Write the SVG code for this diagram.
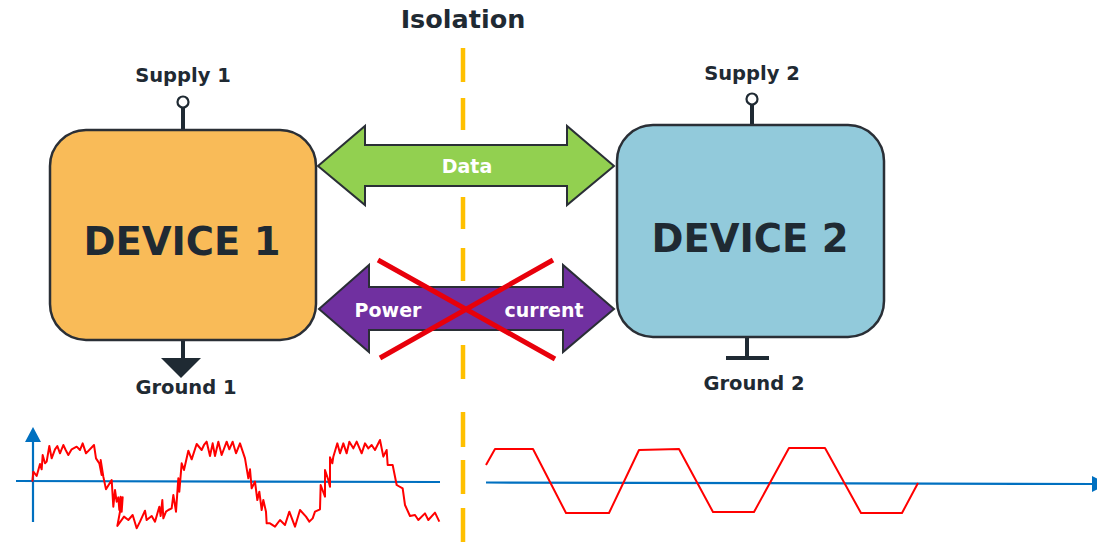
<svg xmlns="http://www.w3.org/2000/svg" width="1097" height="542" viewBox="0 0 1097 542">
<style>
.lbl{font-family:"DejaVu Sans","Liberation Sans",sans-serif;font-weight:bold;fill:#1F2A33;text-anchor:middle}
.dev{stroke:#2A2F36;stroke-width:2.5}
.wire{stroke:#1F2A33;stroke-width:4;fill:none}
.arr{stroke:#2A2F36;stroke-width:2;stroke-linejoin:miter}
.wt{font-family:"DejaVu Sans","Liberation Sans",sans-serif;font-weight:bold;fill:#FFFFFF;font-size:19px}
.axis{stroke:#0070C0;stroke-width:2.2;fill:none}
.wave{stroke:#FF0000;stroke-width:2;fill:none;stroke-linejoin:round}
</style>
<rect width="1097" height="542" fill="#FFFFFF"/>

<g id="isolation">
<path d="M463 48V82M463 98V130M463 148V180M463 197V229M463 248V281M463 298V330M463 345V379M463 412V447M463 460V494M463 508V542" stroke="#FFC000" stroke-width="4.5"/>
<text class="lbl" x="463" y="28" font-size="25.5">Isolation</text>
</g>

<g id="device1">
<line class="wire" x1="183" y1="107" x2="183" y2="131"/>
<circle cx="183" cy="102" r="5.5" fill="#FFFFFF" stroke="#1F2A33" stroke-width="2.2"/>
<line class="wire" x1="183" y1="340" x2="183" y2="360"/>
<polygon points="161,358 201,358 181,378" fill="#1F2A33"/>
<rect class="dev" x="50" y="130" width="266" height="210" rx="36" fill="#F9BB58"/>
<text class="lbl" x="183" y="82" font-size="19.5">Supply 1</text>
<text class="lbl" x="182" y="255" font-size="38.5">DEVICE 1</text>
<text class="lbl" x="186" y="394" font-size="19.5">Ground 1</text>
</g>

<g id="device2">
<line class="wire" x1="752" y1="104" x2="752" y2="126"/>
<circle cx="752" cy="99" r="5.5" fill="#FFFFFF" stroke="#1F2A33" stroke-width="2.2"/>
<line class="wire" x1="747" y1="337" x2="747" y2="358"/>
<line class="wire" x1="726" y1="358" x2="769" y2="358"/>
<rect class="dev" x="617" y="125" width="267" height="212" rx="36" fill="#92CADB"/>
<text class="lbl" x="752" y="80" font-size="19.5">Supply 2</text>
<text class="lbl" x="750" y="252" font-size="38.5">DEVICE 2</text>
<text class="lbl" x="754" y="390" font-size="19.5">Ground 2</text>
</g>

<g id="connectors">
<g id="data">
<polygon class="arr" fill="#92D050" points="318,166 365,126 365,145 567,145 567,126 614,166 567,205 567,186 365,186 365,205"/>
<text class="wt" x="467" y="173" text-anchor="middle">Data</text>
</g>
<g id="power">
<polygon class="arr" fill="#7030A0" points="319,309 369,265 369,287 563,287 563,265 614,309 563,352 563,330 369,330 369,352"/>
<text class="wt" x="388" y="317" text-anchor="middle" font-size="20">Power</text>
<text class="wt" x="544" y="317" text-anchor="middle" font-size="20">current</text>
<path d="M378 260L555 359M553 260L380 358" stroke="#E8000B" stroke-width="5"/>
</g>
</g>

<g id="waveform1">
<line class="axis" x1="33" y1="522" x2="33" y2="440"/>
<polygon points="25,442 41,442 33,427" fill="#0070C0"/>
<line class="axis" x1="16" y1="481" x2="440" y2="482"/>
<g transform="translate(0 410) scale(0.33333)">
<polyline fill="none" stroke="#FF0000" stroke-width="6" stroke-linejoin="round" points="97,215 100,185 110,198 120,162 125,178 128,135 135,160 140,155 148,108 155,145 165,118 172,108 180,130 190,105 197,120 205,135 215,118 230,110 240,120 248,100 258,130 282,105 288,145 298,160 305,195 302,150 310,200 318,238 335,210 340,290 345,240 350,275 355,262 358,300 362,260 365,305 368,262 352,348 372,320 385,330 398,315 410,355 420,335 435,302 440,330 455,318 465,335 478,290 482,318 487,270 490,325 498,305 505,300 515,295 520,255 528,305 535,205 538,245 545,160 552,180 565,122 575,148 590,102 605,120 612,105 620,95 630,138 638,100 645,138 655,95 665,135 680,95 688,118 698,95 708,130 720,100 735,145 745,205 750,178 755,235 765,215 772,270 778,245 785,300 790,270 798,305 800,340 810,340 825,350 840,330 855,345 868,305 885,350 900,300 918,320 928,335 938,325 945,305 960,298 962,225 975,260 975,180 985,210 990,230 990,142 997,160 1000,140 1012,100 1020,130 1030,100 1040,130 1048,95 1060,115 1070,95 1085,130 1095,100 1105,115 1115,105 1125,120 1140,90 1150,140 1160,120 1163,165 1178,165 1190,225 1208,235 1215,285 1230,318 1245,315 1255,330 1275,310 1285,330 1305,308 1318,335"/>
</g>
</g>

<g id="waveform2">
<line class="axis" x1="486" y1="482.5" x2="1093" y2="484"/>
<polygon points="1092,476 1092,492 1108,484" fill="#0070C0"/>
<polyline class="wave" points="486,465 495,449 533,449 566,513 609,513 639,450 679,449 713,512 754,512 789,448 825,448 861,513 902,513 918,483"/>
</g>
</svg>
